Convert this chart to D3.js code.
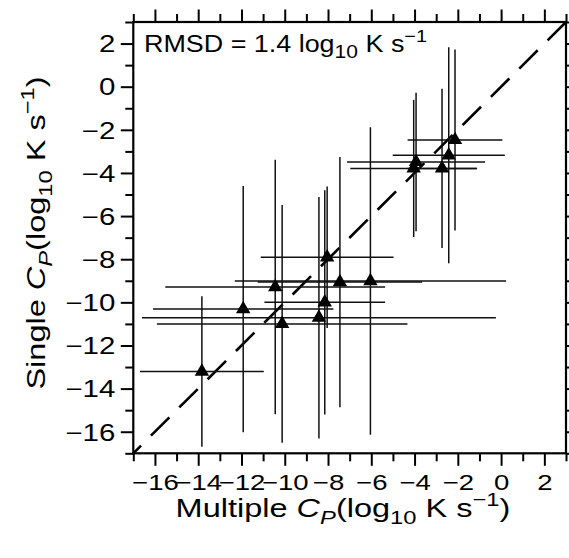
<!DOCTYPE html>
<html><head><meta charset="utf-8">
<script src="https://cdn.jsdelivr.net/npm/d3@7"></script>
<style>
body{margin:0;background:#fff;}
text{font-family:"Liberation Sans", Arial, Helvetica, sans-serif;fill:#000;}
</style>
</head><body>
<svg id="chart" width="569" height="558"></svg>
<script>
// Data (log10 K s^-1)
const multipleCP   = [-13.83, -11.92, -10.12, -8.42, -10.44, -8.04, -8.15, -7.45, -6.04, -2.13, -2.42, -2.73, -3.93, -4.04];
const singleCP     = [-13.21, -10.31, -11.00, -10.71, -9.29, -7.91, -10.00, -9.06, -9.01, -2.47, -3.18, -3.79, -3.49, -3.79];
const multipleErr  = [2.86, 4.17, 5.79, 8.18, 5.08, 3.07, 2.79, 3.80, 6.27, 2.19, 2.59, 1.6, 3.19, 2.93];
const singleErr    = [3.49, 5.71, 5.51, 5.60, 5.90, 3.28, 5.20, 5.80, 7.13, 4.20, 5.01, 3.69, 3.21, 3.18];
const axisDomain   = [-17, 3];
const majorTicks   = [-16, -14, -12, -10, -8, -6, -4, -2, 0, 2];
const minorTicks   = [-17, -15, -13, -11, -9, -7, -5, -3, -1, 1, 3];
const rmsdValue    = "1.4";

const svg = d3.select("#chart");
const L = 133.3, T = 22, W = 432.7, H = 431.3;
const x = d3.scaleLinear().domain(axisDomain).range([L, L + W]);
const y = d3.scaleLinear().domain(axisDomain).range([T + H, T]);
const fmt = d => d < 0 ? "\u2212" + Math.abs(d) : String(d);
const SX = 1.25;   // horizontal stretch of the reference lettering
const TSX = 1.28;  // stretch for left tick labels

const MAJ = 12.5, MIN = 8;
const tickStyle = g => { g.select(".domain").remove(); g.selectAll("line").attr("stroke", "#000").attr("stroke-width", 2); };

// major ticks with labels
svg.append("g").attr("transform", `translate(0,${T + H})`)
  .call(d3.axisBottom(x).tickValues(majorTicks).tickSize(MAJ).tickPadding(9).tickFormat(fmt))
  .call(tickStyle)
  .selectAll("text").attr("font-size", 22).attr("font-family", "Liberation Sans, Arial, sans-serif")
  .attr("transform", `scale(${SX},1)`);
svg.append("g").attr("transform", `translate(${L},0)`)
  .call(d3.axisLeft(y).tickValues(majorTicks).tickSize(MAJ).tickPadding(6).tickFormat(fmt))
  .call(tickStyle)
  .selectAll("text").attr("font-size", 23).attr("font-family", "Liberation Sans, Arial, sans-serif")
  .attr("x", -18 / TSX).attr("dy", "0.36em")
  .attr("transform", `scale(${TSX},1)`);
svg.append("g").attr("transform", `translate(0,${T})`)
  .call(d3.axisTop(x).tickValues(majorTicks).tickSize(MAJ).tickFormat(""))
  .call(tickStyle);
svg.append("g").attr("transform", `translate(${L + W},0)`)
  .call(d3.axisRight(y).tickValues(majorTicks).tickSize(MAJ).tickFormat(""))
  .call(tickStyle);
// minor ticks
svg.append("g").attr("transform", `translate(0,${T + H})`)
  .call(d3.axisBottom(x).tickValues(minorTicks).tickSize(MIN).tickFormat("")).call(tickStyle);
svg.append("g").attr("transform", `translate(${L},0)`)
  .call(d3.axisLeft(y).tickValues(minorTicks).tickSize(MIN).tickFormat("")).call(tickStyle);
svg.append("g").attr("transform", `translate(0,${T})`)
  .call(d3.axisTop(x).tickValues(minorTicks).tickSize(MIN).tickFormat("")).call(tickStyle);
svg.append("g").attr("transform", `translate(${L + W},0)`)
  .call(d3.axisRight(y).tickValues(minorTicks).tickSize(MIN).tickFormat("")).call(tickStyle);

// 1:1 dashed line
svg.append("line")
  .attr("x1", x(axisDomain[1])).attr("y1", y(axisDomain[1]))
  .attr("x2", x(axisDomain[0])).attr("y2", y(axisDomain[0]))
  .attr("stroke", "#000").attr("stroke-width", 2.6).attr("stroke-dasharray", "26,14");

const pts = multipleCP.map((m, i) => ({m, s: singleCP[i], me: multipleErr[i], se: singleErr[i]}));

// error bars
const eb = svg.append("g").attr("stroke", "#111").attr("stroke-width", 1.5);
eb.selectAll(".h").data(pts).join("line")
  .attr("x1", d => x(d.m - d.me)).attr("x2", d => x(d.m + d.me))
  .attr("y1", d => y(d.s)).attr("y2", d => y(d.s));
eb.selectAll(".v").data(pts).join("line")
  .attr("x1", d => x(d.m)).attr("x2", d => x(d.m))
  .attr("y1", d => y(d.s - d.se)).attr("y2", d => y(d.s + d.se));

// triangles
const tri = d3.symbol().type(d3.symbolTriangle).size(90);
svg.append("g").selectAll("path").data(pts).join("path")
  .attr("d", tri).attr("transform", d => `translate(${x(d.m)},${y(d.s)})`)
  .attr("fill", "#000");

// frame
svg.append("rect").attr("x", L).attr("y", T).attr("width", W).attr("height", H)
  .attr("fill", "none").attr("stroke", "#000").attr("stroke-width", 2.2);

// RMSD annotation
const r = svg.append("text").attr("transform", `translate(144,52) scale(1.17,1)`).attr("font-size", 23);
r.append("tspan").text(`RMSD = ${rmsdValue} log`);
r.append("tspan").attr("font-size", 18).attr("dy", 6).text("10");
r.append("tspan").attr("dy", -6).text(" K s");
r.append("tspan").attr("font-size", 17).attr("dy", -10).text("\u22121");

// axis titles
function title(sel, word) {
  sel.append("tspan").text(word + " ");
  sel.append("tspan").attr("font-style", "italic").text("C");
  sel.append("tspan").attr("font-style", "italic").attr("font-size", 19).attr("dy", 7).text("P");
  sel.append("tspan").attr("dy", -7).text("(log");
  sel.append("tspan").attr("font-size", 19).attr("dy", 7).text("10");
  sel.append("tspan").attr("dy", -7).text(" K s");
  sel.append("tspan").attr("font-size", 19).attr("dy", -11).text("\u22121");
  sel.append("tspan").attr("dy", 11).text(")");
}
const xt = svg.append("text").attr("transform", `translate(343,517) scale(${SX},1)`).attr("text-anchor", "middle").attr("font-size", 26);
title(xt, "Multiple");
const yt = svg.append("text").attr("transform", `translate(45,233) rotate(-90) scale(${SX},1)`).attr("text-anchor", "middle").attr("font-size", 26);
title(yt, "Single");
</script>
</body></html>
